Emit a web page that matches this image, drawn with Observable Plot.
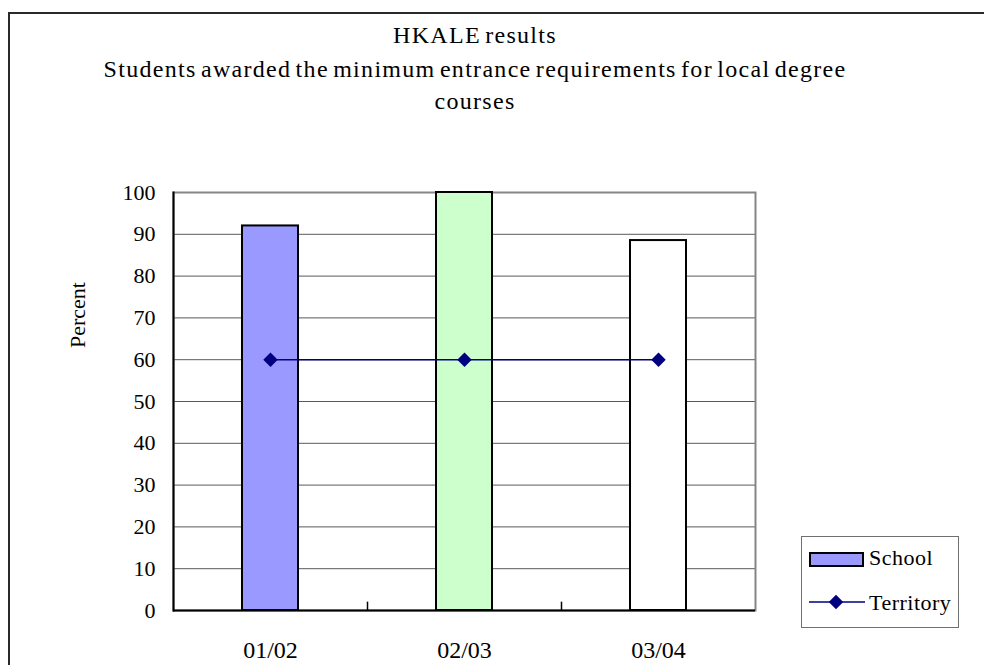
<!DOCTYPE html>
<html>
<head>
<meta charset="utf-8">
<script src="https://cdn.jsdelivr.net/npm/d3@7"></script>
<script src="https://cdn.jsdelivr.net/npm/@observablehq/plot@0.6"></script>
<style>
  html, body { margin: 0; padding: 0; background: #fff; }
  #wrap { position: relative; width: 984px; height: 665px; overflow: hidden; font-family: "Liberation Serif", "Times New Roman", serif; color: #000; }
  #outer { position: absolute; left: 8px; top: 12px; right: -20px; bottom: -20px; border: 2px solid #2a2a2a; }
  .title { position: absolute; left: 0; width: 950px; text-align: center; font-size: 24px; line-height: 24px; white-space: nowrap; letter-spacing: 1.3px; word-spacing: -3px; }
  #ylabel { position: absolute; left: 78px; top: 315px; font-size: 22px; transform: translate(-50%, -50%) rotate(-90deg); white-space: nowrap; }
  #legend { position: absolute; left: 801px; top: 536px; width: 156px; height: 90px; border: 1.5px solid #707070; font-size: 22px; }
  .lg { position: absolute; left: 0; white-space: nowrap; letter-spacing: 0.5px; }
  svg { position: absolute; left: 0; top: 0; }
</style>
</head>
<body>
<div id="wrap">
  <div id="outer"></div>
  <div id="chart"></div>
  <div class="title" style="top:23px">HKALE results</div>
  <div class="title" style="top:57px">Students awarded the minimum entrance requirements for local degree</div>
  <div class="title" style="top:89px">courses</div>
  <div id="ylabel">Percent</div>
  <div id="legend"></div>
</div>
<script>
const categories = ["01/02", "02/03", "03/04"];
const schoolValues = [92, 100, 88.5];
const territoryValues = [60, 60, 60];
const barColors = ["#9999ff", "#ccffcc", "#ffffff"];
const yTicks = [0, 10, 20, 30, 40, 50, 60, 70, 80, 90, 100];

const school = categories.map((c, i) => ({year: c, value: schoolValues[i], color: barColors[i]}));
const territory = categories.map((c, i) => ({year: c, value: territoryValues[i]}));

const W = 984, H = 665, ml = 173, mr = 229, mt = 192, mb = 55;
const step = (W - ml - mr) / categories.length;

const chart = Plot.plot({
  width: W,
  height: H,
  marginLeft: ml,
  marginRight: mr,
  marginTop: mt,
  marginBottom: mb,
  style: {fontFamily: "'Liberation Serif', 'Times New Roman', serif", fontSize: "22px", color: "#000", background: "transparent"},
  x: {domain: categories, paddingInner: 0.711, paddingOuter: 0.3555, label: null},
  y: {domain: [0, 100], label: null},
  marks: [
    Plot.gridY(yTicks, {stroke: "#5a5a5a", strokeOpacity: 1, strokeWidth: 1}),
    Plot.frame({stroke: "#858585", strokeWidth: 2}),
    Plot.barY(school, {x: "year", y: "value", fill: "color", stroke: "#000", strokeWidth: 2}),
    Plot.ruleX(categories.slice(1), {x: d => d, y1: 0, y2: 2, dx: -step / 2, stroke: "#000", strokeWidth: 1.5}),
    Plot.line(territory, {x: "year", y: "value", stroke: "#000080", strokeWidth: 1.6}),
    Plot.dot(territory, {x: "year", y: "value", symbol: "diamond2", r: 6.5, fill: "#000080", stroke: "none"}),
    Plot.ruleY([0], {stroke: "#000", strokeWidth: 2}),
    Plot.frame({anchor: "left", stroke: "#000", strokeWidth: 2}),
    Plot.axisY(yTicks, {tickSize: 0, tickPadding: 18, fontSize: 22, label: null}),
    Plot.axisX({tickSize: 0, tickPadding: 30, fontSize: 24, label: null})
  ]
});
document.getElementById("chart").appendChild(chart);

// Legend
const legend = d3.select("#legend");
const sw = legend.append("svg").attr("width", 156).attr("height", 90).style("left", "0px").style("top", "0px");
sw.append("rect").attr("x", 8).attr("y", 16).attr("width", 53).attr("height", 13)
  .attr("fill", barColors[0]).attr("stroke", "#000").attr("stroke-width", 2);
sw.append("line").attr("x1", 7).attr("x2", 63).attr("y1", 65).attr("y2", 65)
  .attr("stroke", "#000080").attr("stroke-width", 1.6);
sw.append("path").attr("d", d3.symbol(d3.symbolDiamond2, Math.PI * 6.5 * 6.5)())
  .attr("transform", "translate(34,65)").attr("fill", "#000080");
legend.append("div").attr("class", "lg").style("left", "67px").style("top", "8px").text("School");
legend.append("div").attr("class", "lg").style("left", "67px").style("top", "53px").text("Territory");
</script>
</body>
</html>
